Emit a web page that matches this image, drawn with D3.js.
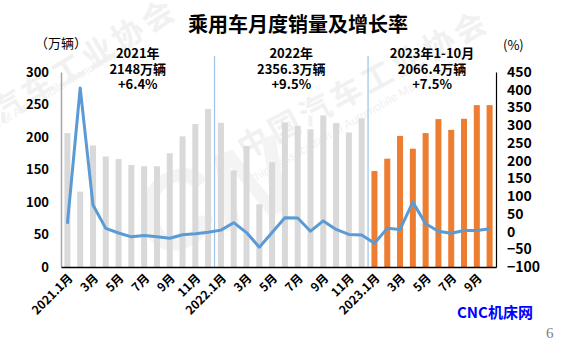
<!DOCTYPE html>
<html><head><meta charset="utf-8">
<script src="https://cdn.jsdelivr.net/npm/d3@7"></script>
<style>
html,body{margin:0;padding:0;background:#fff;}
svg{display:block;font-family:"Noto Sans CJK SC","Noto Sans",sans-serif;}
</style></head>
<body><svg id="c" width="562" height="340"></svg>
<script>
const categories = [
 "2021.1月","2月","3月","4月","5月","6月","7月","8月","9月","10月","11月","12月",
 "2022.1月","2月","3月","4月","5月","6月","7月","8月","9月","10月","11月","12月",
 "2023.1月","2月","3月","4月","5月","6月","7月","8月","9月","10月"];
const sales2021 = [206, 116, 187, 170, 166, 157, 155, 155, 175, 201, 220, 243];
const sales2022 = [221.8, 148.7, 186.3, 96.5, 161.2, 222.2, 217.0, 211.9, 233.2, 221.4, 207.0, 228.7];
const sales2023 = [147.6, 166.6, 201.7, 182, 206, 227.5, 211, 228, 249, 249];
const growth = [22, 405, 75, 9, -4, -15, -11, -15, -19, -9, -6, -2,
                4, 25, -3, -44, -3, 39, 38, 1, 30, 6, -8, -10,
                -33, 9, 6, 83, 22, 1, -5, 3, 3, 8];
const leftTicks = [0, 50, 100, 150, 200, 250, 300];
const rightTicks = [-100, -50, 0, 50, 100, 150, 200, 250, 300, 350, 400, 450];
const yearNotes = [
  {start: 0, end: 12, lines: ["2021年", "2148万辆", "+6.4%"]},
  {start: 12, end: 24, lines: ["2022年", "2356.3万辆", "+9.5%"]},
  {start: 24, end: 34, lines: ["2023年1-10月", "2066.4万辆", "+7.5%"]}
];
const title = "乘用车月度销量及增长率";

const sales = sales2021.concat(sales2022, sales2023);
const svg = d3.select("#c");
const L = 61, R = 496, T = 72, B = 267;
const x = d3.scaleBand().domain(d3.range(categories.length)).range([L, R]).paddingInner(0.53).paddingOuter(0.265);
const yL = d3.scaleLinear().domain([0, 300]).range([B, T]);
const yR = d3.scaleLinear().domain([-100, 450]).range([B, T]);

// faint watermark (background)
const wm = svg.append("g").attr("fill", "#f1f1f1");
wm.append("text").attr("transform", "translate(-60,160) rotate(-31)")
  .attr("font-size", 31).attr("font-weight", "bold").attr("letter-spacing", 4).text("中国汽车工业协会");
wm.append("text").attr("transform", "translate(-80,175) rotate(-31)")
  .attr("font-size", 12).attr("font-family", "Arial, Liberation Sans, sans-serif").text("China Association of Automobile Manufacturers");
wm.append("text").attr("transform", "translate(245,160) rotate(-28)")
  .attr("font-size", 31).attr("font-weight", "bold").attr("letter-spacing", 4).text("中国汽车工业协会");
wm.append("text").attr("transform", "translate(250,185) rotate(-30)")
  .attr("font-size", 12).attr("font-family", "Arial, Liberation Sans, sans-serif").text("China Association of Automobile Manufacturers");
wm.append("text").attr("transform", "translate(150,260) rotate(-20)")
  .attr("font-size", 110).attr("font-weight", "bold").attr("font-style", "italic")
  .attr("fill", "#f4f4f4").attr("font-family", "Arial, Liberation Sans, sans-serif").text("CN");

// title
svg.append("text").attr("x", 298).attr("y", 32).attr("text-anchor", "middle")
  .attr("font-size", 20).attr("font-weight", "bold").attr("fill", "#000").text(title);

// bars
svg.append("g").selectAll("rect").data(sales).join("rect")
  .attr("x", (d, i) => x(i)).attr("width", x.bandwidth())
  .attr("y", d => yL(d)).attr("height", d => yL(0) - yL(d))
  .attr("fill", (d, i) => i >= 24 ? "#ed7d31" : "#d9d9d9");

// separators
const half = (x.step() - x.bandwidth()) / 2;
[12, 24].forEach(k => {
  svg.append("line").attr("x1", x(k) - half).attr("x2", x(k) - half)
    .attr("y1", 56).attr("y2", B + 1).attr("stroke", "#9dc3e6").attr("stroke-width", 1.2);
});

// axes
const ax = svg.append("g").attr("transform", `translate(${L},0)`)
  .call(d3.axisLeft(yL).tickValues(leftTicks).tickSize(0).tickSizeOuter(0).tickPadding(12));
ax.select(".domain").attr("stroke", "#a6a6a6").attr("stroke-width", 1.5);
ax.selectAll("text").attr("font-size", 13).attr("font-weight", "bold").attr("fill", "#000")
  .attr("font-family", "'Noto Sans CJK SC', sans-serif");

const ar = svg.append("g").attr("transform", `translate(${R},0)`)
  .call(d3.axisRight(yR).tickValues(rightTicks).tickSize(0).tickSizeOuter(0).tickPadding(11));
ar.select(".domain").attr("stroke", "#000").attr("stroke-width", 1.2);
ar.selectAll("text").attr("font-size", 14).attr("font-weight", "bold").attr("fill", "#000")
  .attr("font-family", "'Noto Sans CJK SC', sans-serif");

// bottom axis
const xb = svg.append("g").attr("transform", `translate(0,${B})`)
  .call(d3.axisBottom(x).tickValues(d3.range(0, categories.length, 2)).tickFormat(i => categories[i]).tickSize(0).tickSizeOuter(0));
xb.select(".domain").attr("stroke", "#000").attr("stroke-width", 1.3);
xb.selectAll("text").attr("font-size", 12).attr("font-weight", "bold").attr("fill", "#000")
  .attr("font-family", "'Noto Sans CJK SC', sans-serif")
  .attr("text-anchor", "end").attr("dy", null).attr("y", 0)
  .attr("transform", "translate(6,12) rotate(-45)");

// line
const line = d3.line().x((d, i) => x(i) + x.bandwidth() / 2).y(d => yR(d));
svg.append("path").datum(growth).attr("d", line).attr("fill", "none")
  .attr("stroke", "#5b9bd5").attr("stroke-width", 3).attr("stroke-linejoin", "round");

// units
svg.append("text").attr("x", 35).attr("y", 48).attr("font-size", 13).attr("fill", "#000").text("（万辆）");
svg.append("text").attr("x", 503).attr("y", 50).attr("font-size", 13).attr("fill", "#000").text("(%)");

// year notes
yearNotes.forEach(n => {
  const cx = (x(n.start) + x(n.end - 1) + x.bandwidth()) / 2;
  const t = svg.append("text").attr("text-anchor", "middle").attr("font-size", 13)
    .attr("font-weight", "bold").attr("fill", "#000");
  n.lines.forEach((s, j) => t.append("tspan").attr("x", cx).attr("y", 58 + j * 15.5).text(s));
});

// footer
svg.append("text").attr("x", 457).attr("y", 318).attr("font-size", 15).attr("font-weight", "bold")
  .attr("fill", "#0000ff").text("CNC机床网");
svg.append("text").attr("x", 546).attr("y", 338).attr("font-size", 15).attr("fill", "#7f7f7f")
  .attr("font-family", "'Liberation Serif', serif").text("6");
</script></body></html>
